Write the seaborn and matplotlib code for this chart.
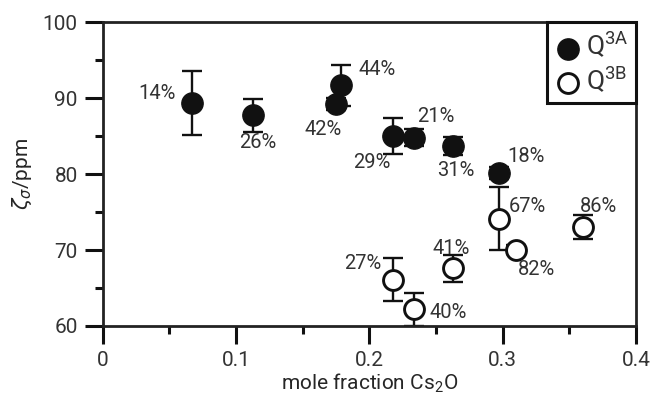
import matplotlib
matplotlib.use("Agg")
import matplotlib.pyplot as plt
from matplotlib.ticker import MultipleLocator
import numpy as np
import pandas as pd
import seaborn as sns

# Q3A sites (filled symbols)
a_x = [0.067, 0.1125, 0.1748, 0.1788, 0.2176, 0.2338, 0.2626, 0.2975]
a_y = [89.3, 87.7, 89.2, 91.7, 85.0, 84.8, 83.7, 80.1]
a_err = [4.2, 2.2, 0.8, 2.7, 2.35, 1.15, 1.2, 0.8]
a_lab = ["14%", "26%", "42%", "44%", "29%", "21%", "31%", "18%"]

# Q3B sites (open symbols)
b_x = [0.2975, 0.3098, 0.360, 0.263, 0.218, 0.2338]
b_y = [74.1, 70.05, 73.0, 67.6, 66.1, 62.2]
b_err = [4.15, 0.6, 1.6, 1.8, 2.8, 2.2]
b_lab = ["67%", "82%", "86%", "41%", "27%", "40%"]

# label offsets (pixels) and horizontal alignment for each point
a_off = [(-16, 10, "right"), (5, -27, "center"), (-13, -25, "center"),
         (17, 16, "left"), (-21, -27, "center"), (21, 21, "center"),
         (3, -25, "center"), (27, 17, "center")]
b_off = [(28, 12, "center"), (21, -20, "center"), (16, 21, "center"),
         (-2, 20, "center"), (-31, 16, "center"), (15, -3, "left")]

x_ticks = [0, 0.1, 0.2, 0.3, 0.4]
x_ticklabels = ["0", "0.1", "0.2", "0.3", "0.4"]
y_ticks = [60, 70, 80, 90, 100]

TXT = "#333333"

sns.set_theme(style="ticks")
plt.rcParams["font.family"] = ["Roboto", "DejaVu Sans"]
plt.rcParams["font.weight"] = "normal"
plt.rcParams["mathtext.fontset"] = "custom"
plt.rcParams["mathtext.rm"] = "Roboto"
plt.rcParams["mathtext.it"] = "DejaVu Sans:italic"
plt.rcParams["text.color"] = TXT

df_a = pd.DataFrame({"x": a_x, "y": a_y, "err": a_err, "label": a_lab})
df_b = pd.DataFrame({"x": b_x, "y": b_y, "err": b_err, "label": b_lab})

fig = plt.figure(figsize=(6.53, 4.0), dpi=100)
ax = fig.add_axes([102.7 / 653, 1 - 326 / 400, (636 - 102.7) / 653, (326 - 22) / 400])

for d in (df_a, df_b):
    ax.errorbar(d["x"], d["y"], yerr=d["err"], fmt="none", ecolor="#111111",
                elinewidth=1.7, capsize=7, capthick=1.7, zorder=2, clip_on=True)

sns.scatterplot(data=df_a, x="x", y="y", ax=ax, color="#111111", s=235,
                edgecolor="#111111", linewidth=1.0, zorder=3,
                label="Q$^{\\mathrm{3A}}$")
sns.scatterplot(data=df_b, x="x", y="y", ax=ax, color="white", s=205,
                edgecolor="#111111", linewidth=2.1, zorder=3,
                label="Q$^{\\mathrm{3B}}$")

for d, offs in ((df_a, a_off), (df_b, b_off)):
    for (_, r), (dx, dy, ha) in zip(d.iterrows(), offs):
        ax.annotate(r["label"], (r["x"], r["y"]), xytext=(dx, dy),
                    textcoords="offset pixels", ha=ha, va="center",
                    fontsize=14.5, color=TXT)

ax.set_xlim(0, 0.4)
ax.set_ylim(60, 100)
ax.set_xticks(x_ticks)
ax.set_xticklabels(x_ticklabels)
ax.set_yticks(y_ticks)
ax.xaxis.set_minor_locator(MultipleLocator(0.05))
ax.yaxis.set_minor_locator(MultipleLocator(5))
ax.tick_params(axis="both", which="major", direction="out", length=13,
               width=2.2, color="#111111", labelsize=15, labelcolor=TXT, pad=5)
ax.tick_params(axis="both", which="minor", direction="out", length=6,
               width=2.2, color="#111111")
for s in ax.spines.values():
    s.set_linewidth(2.0)
    s.set_color("#222222")
    s.set_visible(True)

ax.set_xlabel("mole fraction Cs$_{\\mathrm{2}}$O", fontsize=15, labelpad=1)
ax.set_ylabel("$\\zeta_\\sigma$/ppm", fontsize=15, labelpad=6)

leg = ax.legend(loc="upper right", borderaxespad=0, fontsize=19,
                frameon=True, fancybox=False, framealpha=1,
                edgecolor="#111111", handletextpad=0.15, borderpad=0.3,
                labelspacing=0.15, markerscale=1.0, handlelength=1.0)
leg.get_frame().set_linewidth(2.2)

fig.savefig("out.png", dpi=100)
